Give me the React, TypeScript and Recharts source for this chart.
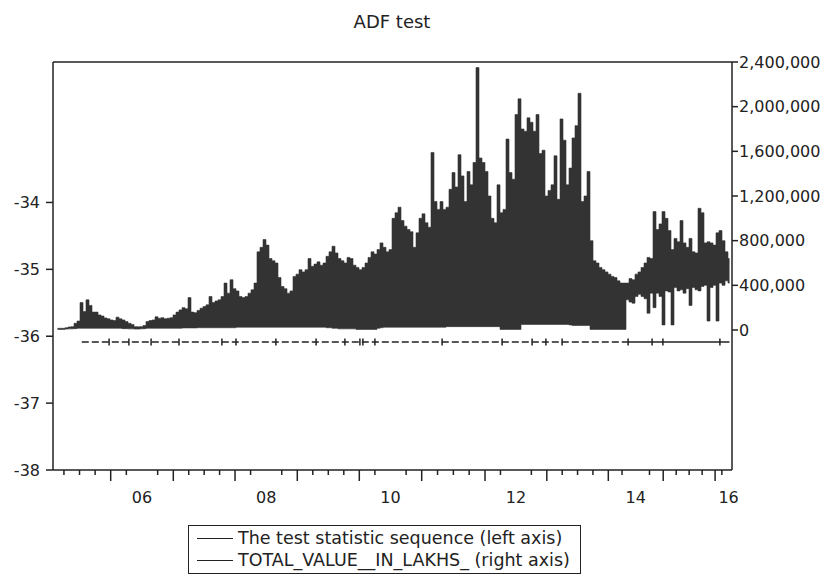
import { ComposedChart, Area, Line, Scatter, XAxis, YAxis, ReferenceLine } from 'recharts'

// TOTAL_VALUE__IN_LAKHS_ read per observation block, upper and lower envelope (thousands)
const totalHighK = [
  15, 15, 15, 20, 27, 30, 60, 80, 245, 165,
  270, 220, 160, 160, 135, 125, 108, 100, 90, 85,
  115, 100, 90, 75, 60, 50, 30, 28, 30, 40,
  75, 85, 90, 118, 105, 110, 100, 105, 110, 135,
  160, 180, 200, 190, 290, 160, 155, 175, 195, 210,
  225, 300, 245, 260, 270, 300, 420, 330, 450, 370,
  350, 300, 290, 300, 330, 360, 420, 700, 740, 810,
  760, 640, 620, 600, 470, 390, 370, 330, 350, 480,
  500, 540, 520, 540, 640, 570, 590, 610, 580, 600,
  660, 700, 750, 690, 640, 620, 600, 650, 640, 580,
  560, 540, 560, 600, 650, 700, 680, 720, 780, 740,
  700, 720, 1000, 1050, 1100, 980, 930, 900, 880, 740,
  870, 1000, 1040, 960, 920, 1590, 1150, 1080, 1150, 1080,
  1100, 1260, 1410, 1280, 1570, 1380, 1150, 1420, 1300, 1500,
  2350, 1540, 1500, 1420, 1200, 1000, 960, 1300, 1050, 1080,
  1710, 1410, 1350, 1930, 2070, 1800, 1780, 1900, 1860, 1780,
  1930, 1580, 1610, 1200, 1250, 1300, 1560, 1170, 1890, 1700,
  1300, 1450, 1720, 1830, 2120, 1150, 1200, 1420, 800, 620,
  600, 560, 540, 520, 500, 480, 470, 440, 420, 420,
  420, 460, 450, 500, 520, 560, 600, 650, 640, 1060,
  900, 950, 1060, 1000, 890, 720, 820, 790, 980, 780,
  740, 820, 700, 690, 1090, 1050, 780, 790, 780, 760,
  870, 890, 800, 700, 640,
]

const totalLowK = [
  5, 5, 5, 8, 10, 10, 12, 15, 15, 15,
  15, 15, 15, 15, 15, 15, 15, 15, 15, 15,
  15, 15, 12, 12, 10, 10, 8, 8, 10, 12,
  15, 15, 15, 15, 15, 15, 15, 15, 15, 15,
  15, 15, 18, 18, 18, 18, 18, 20, 20, 20,
  20, 20, 20, 20, 20, 20, 20, 20, 20, 20,
  25, 25, 25, 25, 25, 25, 25, 25, 25, 25,
  25, 25, 25, 25, 25, 25, 25, 25, 25, 25,
  25, 25, 25, 25, 25, 25, 25, 25, 25, 25,
  20, 20, 15, 15, 10, 10, 10, 10, 10, 10,
  5, 5, 5, 5, 5, 5, 5, 15, 20, 25,
  25, 25, 25, 25, 25, 25, 25, 25, 25, 25,
  25, 25, 25, 25, 25, 25, 25, 25, 25, 25,
  30, 30, 30, 30, 30, 30, 30, 30, 30, 30,
  30, 30, 30, 30, 30, 30, 30, 30, 5, 5,
  5, 5, 5, 5, 5, 50, 50, 50, 50, 50,
  50, 50, 50, 50, 50, 50, 50, 50, 50, 50,
  50, 45, 40, 40, 40, 40, 40, 40, 5, 5,
  5, 5, 5, 5, 5, 5, 5, 5, 5, 5,
  270, 250, 240, 300, 320, 300, 280, 150, 330, 200,
  330, 300, 45, 350, 340, 45, 380, 350, 360, 330,
  370, 220, 380, 360, 350, 390, 400, 80, 380, 400,
  80, 420, 400, 440, 420,
]

// the test statistic sequence (left axis)
const statValue = -36.085
const statDashedObs = [9.6, 191]
const statSolidObs = [191, 225.5]
const statJumpObs = [
  18.7, 25.3, 32.7, 42, 56.3, 61, 74.3, 87.7, 97.3, 102.3, 103.3,
  107.3, 129.7, 149.7, 159.7, 164.3, 169.7, 191.7, 199.7, 203.3, 222.3,
]

// observation positions where each year starts (2005 .. 2017)
const yearStartObs = [-1.55, 19.23, 40.1, 60.67, 81.43, 102.1, 122.9, 144, 164.6, 185.1, 203.4, 220.7, 229.7]
const yearNames = ['05', '06', '07', '08', '09', '10', '11', '12', '13', '14', '15', '16']
const shownYears = ['06', '08', '10', '12', '14', '16']

const leftTicks = [-38, -37, -36, -35, -34]
const rightTicks = [0, 400000, 800000, 1200000, 1600000, 2000000, 2400000]
const legendItems = ['The test statistic sequence (left axis)', 'TOTAL_VALUE__IN_LAKHS_ (right axis)']

const X_MAX = 226.33
const FONT = '"DejaVu Sans", Verdana, sans-serif'
const INK = '#222'

const rows = totalHighK.map((h, k) => ({ obs: k + 1.5, total: [totalLowK[k] * 1000, h * 1000] }))
const statDashed = statDashedObs.map((o) => ({ obs: o, stat: statValue }))
const statSolid = statSolidObs.map((o) => ({ obs: o, stat: statValue }))
const statJumps = statJumpObs.map((o) => ({ obs: o, stat: statValue }))

const tickKind = new Map<number, string>()
yearNames.forEach((name, k) => {
  const s = yearStartObs[k]
  const e = yearStartObs[k + 1]
  if (s >= 0 && s <= X_MAX) tickKind.set(s, 'major')
  for (let q = 1; q < 4; q++) {
    const t = s + ((e - s) * q) / 4
    if (t >= 0 && t <= X_MAX) tickKind.set(t, 'minor')
  }
  if (shownYears.includes(name)) tickKind.set((s + e) / 2, 'label:' + name)
})
const xTicks = Array.from(tickKind.keys()).sort((a, b) => a - b)

function XTick(props: any) {
  const { x, y, payload } = props
  const kind = tickKind.get(payload.value) || ''
  if (kind === 'major') return <line x1={x} x2={x} y1={y} y2={y + 11} stroke={INK} strokeWidth={1.5} />
  if (kind === 'minor') return <line x1={x} x2={x} y1={y} y2={y + 5} stroke={INK} strokeWidth={1.5} />
  return (
    <text x={x} y={y + 33} textAnchor="middle" fontSize={16} fontFamily={FONT} fill={INK}>
      {kind.replace('label:', '')}
    </text>
  )
}

function JumpMark(props: any) {
  const { cx, cy } = props
  return <line x1={cx} x2={cx} y1={cy - 3.5} y2={cy + 3.5} stroke={INK} strokeWidth={1.5} />
}

export default function App() {
  return (
    <div style={{ position: 'absolute', left: 0, top: 0, width: 826, height: 576, background: '#fff', fontFamily: FONT }}>
      <div style={{ position: 'absolute', left: 0, width: 784, top: 11, textAlign: 'center', fontSize: 18, color: INK }}>
        ADF test
      </div>
      <ComposedChart width={826} height={576} data={rows} margin={{ top: 62, right: 0, bottom: 66, left: 0 }}>
        <XAxis
          xAxisId="x"
          dataKey="obs"
          type="number"
          domain={[0, X_MAX]}
          ticks={xTicks}
          interval={0}
          height={40}
          tickSize={0}
          tickMargin={0}
          tickLine={false}
          tick={<XTick />}
          axisLine={{ stroke: INK, strokeWidth: 1.5 }}
        />
        <YAxis
          yAxisId="left"
          domain={[-38, -31.9]}
          ticks={leftTicks}
          width={53}
          tickSize={7}
          tickMargin={6}
          interval={0}
          allowDataOverflow
          tick={{ fontSize: 16, fontFamily: FONT, fill: INK }}
          tickLine={{ stroke: INK, strokeWidth: 1.5 }}
          axisLine={{ stroke: INK, strokeWidth: 1.5 }}
        />
        <YAxis
          yAxisId="right"
          orientation="right"
          domain={[-1254000, 2400000]}
          ticks={rightTicks}
          width={94}
          tickSize={6}
          tickMargin={1}
          interval={0}
          allowDataOverflow
          tickFormatter={(v: number) => v.toLocaleString('en-US')}
          tick={{ fontSize: 16, fontFamily: FONT, fill: INK, textAnchor: 'start' }}
          tickLine={{ stroke: INK, strokeWidth: 1.5 }}
          axisLine={{ stroke: INK, strokeWidth: 1.5 }}
        />
        <ReferenceLine xAxisId="x" yAxisId="left" y={-31.9} stroke={INK} strokeWidth={1.5} />
        <Area
          xAxisId="x"
          yAxisId="right"
          dataKey="total"
          type="step"
          fill="#333"
          fillOpacity={1}
          stroke="#333"
          strokeWidth={0.6}
          isAnimationActive={false}
        />
        <Line
          xAxisId="x"
          yAxisId="left"
          data={statDashed}
          dataKey="stat"
          stroke={INK}
          strokeWidth={1.5}
          strokeDasharray="7 3"
          dot={false}
          isAnimationActive={false}
        />
        <Line
          xAxisId="x"
          yAxisId="left"
          data={statSolid}
          dataKey="stat"
          stroke={INK}
          strokeWidth={1.5}
          dot={false}
          isAnimationActive={false}
        />
        <Scatter
          xAxisId="x"
          yAxisId="left"
          data={statJumps}
          dataKey="stat"
          shape={<JumpMark />}
          isAnimationActive={false}
        />
      </ComposedChart>
      <div
        style={{
          position: 'absolute',
          left: 188,
          top: 525,
          border: `1.5px solid ${INK}`,
          padding: '1px 10px 2px 8px',
          fontSize: 17.5,
          color: INK,
          background: '#fff',
          lineHeight: '22px',
        }}
      >
        {legendItems.map((t) => (
          <div key={t} style={{ display: 'flex', alignItems: 'center', whiteSpace: 'nowrap' }}>
            <span style={{ display: 'inline-block', width: 36, borderTop: `1.5px solid ${INK}`, marginRight: 5 }} />
            {t}
          </div>
        ))}
      </div>
    </div>
  )
}
